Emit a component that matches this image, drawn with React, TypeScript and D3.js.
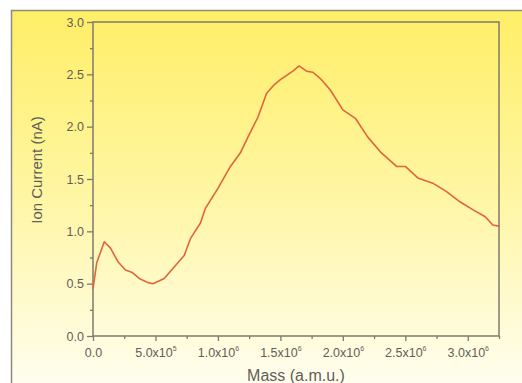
import React, { useEffect, useRef } from "react";
import * as d3 from "d3";

// mass (a.m.u.) and ion current (nA)
const mass = [
  0, 0.03e6, 0.09e6, 0.14e6, 0.2e6, 0.26e6, 0.31e6, 0.37e6, 0.44e6, 0.48e6,
  0.57e6, 0.65e6, 0.73e6, 0.78e6, 0.86e6, 0.9e6, 1.0e6, 1.1e6, 1.18e6, 1.24e6,
  1.32e6, 1.39e6, 1.45e6, 1.5e6, 1.55e6, 1.6e6, 1.65e6, 1.71e6, 1.76e6, 1.82e6,
  1.9e6, 2.0e6, 2.1e6, 2.2e6, 2.3e6, 2.43e6, 2.5e6, 2.6e6, 2.72e6, 2.83e6,
  2.94e6, 3.05e6, 3.14e6, 3.2e6, 3.25e6
];
const current = [
  0.45, 0.7, 0.9, 0.84, 0.71, 0.63, 0.61, 0.55, 0.51, 0.5,
  0.55, 0.66, 0.77, 0.93, 1.08, 1.22, 1.41, 1.62, 1.75, 1.9,
  2.09, 2.32, 2.4, 2.45, 2.49, 2.53, 2.58, 2.53, 2.52, 2.46,
  2.35, 2.16, 2.08, 1.9, 1.76, 1.62, 1.62, 1.51, 1.46, 1.38,
  1.28, 1.2, 1.14, 1.06, 1.05
];

const xMajor = [0, 5e5, 1e6, 1.5e6, 2e6, 2.5e6, 3e6];
const xMinor = [2.5e5, 7.5e5, 1.25e6, 1.75e6, 2.25e6, 2.75e6, 3.25e6];
const yMajor = [0, 0.5, 1.0, 1.5, 2.0, 2.5, 3.0];
const yMinor = [0.25, 0.75, 1.25, 1.75, 2.25, 2.75];

const W = 522,
  H = 383;
const margin = { left: 93, right: 23, top: 22, bottom: 47 };
const AXIS = "#7d7b6e";
const TEXT = "#5f5e58";
const FONT = "'Liberation Sans', Arial, sans-serif";

export default function App() {
  const ref = useRef<SVGSVGElement>(null);

  useEffect(() => {
    const svg = d3.select(ref.current);
    svg.selectAll("*").remove();

    const defs = svg.append("defs");
    const grad = defs
      .append("linearGradient")
      .attr("id", "bg")
      .attr("x1", 0)
      .attr("y1", 0)
      .attr("x2", 0)
      .attr("y2", 1);
    grad.append("stop").attr("offset", "0%").attr("stop-color", "#ffee66");
    grad.append("stop").attr("offset", "50%").attr("stop-color", "#fff6a6");
    grad.append("stop").attr("offset", "100%").attr("stop-color", "#fffef2");

    // outer frame with the yellow fade
    svg
      .append("rect")
      .attr("x", 11.5)
      .attr("y", 10.5)
      .attr("width", W)
      .attr("height", H)
      .attr("fill", "url(#bg)")
      .attr("stroke", "#8c8a7c")
      .attr("stroke-width", 1.5);

    const width = W - margin.left - margin.right;
    const height = H - margin.top - margin.bottom;

    const x = d3.scaleLinear().domain([0, 3.25e6]).range([0, width]);
    const y = d3.scaleLinear().domain([0, 3.0]).range([height, 0]);

    const g = svg
      .append("g")
      .attr("transform", `translate(${margin.left}, ${margin.top})`);

    // plot box
    g.append("rect")
      .attr("width", width)
      .attr("height", height)
      .attr("fill", "none")
      .attr("stroke", AXIS)
      .attr("stroke-width", 1.5);

    // x axis: major with labels, then minor
    const xAxis = g
      .append("g")
      .attr("transform", `translate(0, ${height})`)
      .call(
        d3
          .axisBottom(x)
          .tickValues(xMajor)
          .tickSize(5)
          .tickFormat(() => "")
      );
    g.append("g")
      .attr("transform", `translate(0, ${height})`)
      .call(d3.axisBottom(x).tickValues(xMinor).tickSize(3).tickFormat(() => ""));

    xAxis.selectAll(".tick").each(function (d: any) {
      const t = d3
        .select(this)
        .append("text")
        .attr("y", 21)
        .attr("fill", TEXT)
        .attr("text-anchor", "middle")
        .style("font-family", FONT)
        .style("font-size", "12.5px");
      if (d === 0) {
        t.text("0.0");
      } else {
        const e = Math.floor(Math.log10(d));
        const m = d / Math.pow(10, e);
        t.append("tspan").text(`${m.toFixed(1)}x10`);
        t.append("tspan")
          .attr("dy", -6)
          .style("font-size", "7px")
          .text(e);
      }
    });

    // y axis
    g.append("g")
      .call(
        d3
          .axisLeft(y)
          .tickValues(yMajor)
          .tickSize(6)
          .tickPadding(3)
          .tickFormat(d3.format(".1f"))
      )
      .selectAll("text")
      .attr("fill", TEXT)
      .style("font-family", FONT)
      .style("font-size", "12.5px");
    g.append("g")
      .call(d3.axisLeft(y).tickValues(yMinor).tickSize(3).tickFormat(() => ""));

    g.selectAll(".tick line").attr("stroke", AXIS).attr("stroke-width", 1.3);
    g.selectAll(".domain").attr("d", null);

    // axis titles
    svg
      .append("text")
      .attr("x", margin.left + width / 2)
      .attr("y", 381)
      .attr("text-anchor", "middle")
      .attr("fill", TEXT)
      .style("font-family", FONT)
      .style("font-size", "16px")
      .text("Mass (a.m.u.)");

    svg
      .append("text")
      .attr("transform", `translate(42, 170) rotate(-90)`)
      .attr("text-anchor", "middle")
      .attr("fill", TEXT)
      .style("font-family", FONT)
      .style("font-size", "15px")
      .text("Ion Current (nA)");

    // signal
    const line = d3
      .line<number>()
      .x((_, i) => x(mass[i]))
      .y((d) => y(d))
      .curve(d3.curveLinear);

    g.append("path")
      .attr("d", line(current))
      .attr("fill", "none")
      .attr("stroke", "#e0643c")
      .attr("stroke-width", 1.6)
      .attr("stroke-linejoin", "round");
  }, []);

  return (
    <svg
      ref={ref}
      width={W}
      height={H}
      style={{ position: "fixed", left: 0, top: 0, background: "#fff" }}
    />
  );
}
